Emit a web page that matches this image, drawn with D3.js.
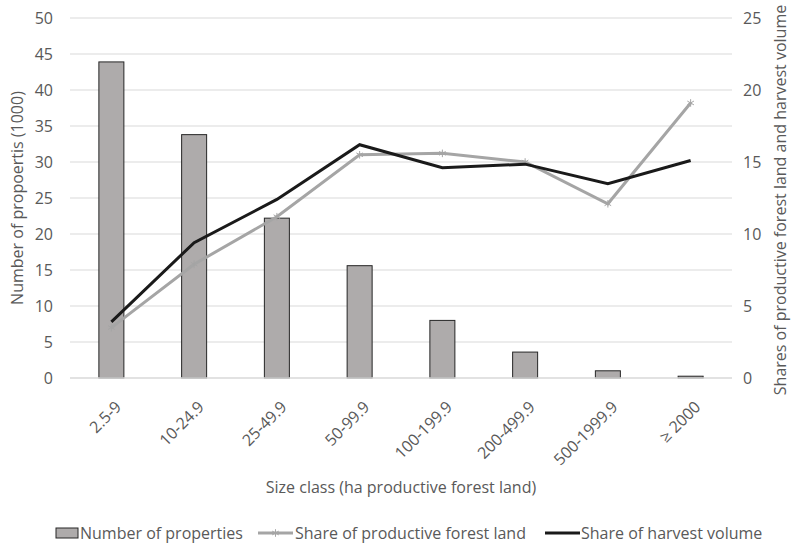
<!DOCTYPE html>
<meta charset="utf-8">
<style>
body { margin: 0; background: #fff; }
text { font-family: "Open Sans", sans-serif; fill: #595959; }
</style>
<body>
<div id="chart"></div>
<script src="https://d3js.org/d3.v7.min.js"></script>
<script>
var categories = ["2.5-9", "10-24.9", "25-49.9", "50-99.9", "100-199.9", "200-499.9", "500-1999.9", "\u2265 2000"];
var properties = [43.9, 33.8, 22.2, 15.6, 8.0, 3.6, 1.0, 0.25];
var shareLand = [3.5, 7.9, 11.2, 15.5, 15.6, 15.0, 12.1, 19.1];
var shareHarvest = [3.9, 9.4, 12.4, 16.2, 14.6, 14.85, 13.5, 15.1];
var leftTicks = [0, 5, 10, 15, 20, 25, 30, 35, 40, 45, 50];
var rightTicks = [0, 5, 10, 15, 20, 25];

var width = 793, height = 544;
var m = {left: 70, right: 61, top: 18, bottom: 166};
var fs = "16px";

var svg = d3.select("#chart").append("svg")
    .attr("width", width)
    .attr("height", height);

var x = d3.scaleBand()
    .domain(categories)
    .range([m.left, width - m.right]);

var yL = d3.scaleLinear().domain([0, 50]).range([height - m.bottom, m.top]);
var yR = d3.scaleLinear().domain([0, 25]).range([height - m.bottom, m.top]);

// gridlines
svg.append("g")
    .selectAll("line")
    .data(leftTicks.slice(1))
    .enter().append("line")
    .attr("x1", m.left).attr("x2", width - m.right)
    .attr("y1", function(d) { return yL(d); })
    .attr("y2", function(d) { return yL(d); })
    .attr("stroke", "#d9d9d9")
    .attr("stroke-width", 1);

// left axis
var gl = svg.append("g")
    .attr("transform", "translate(" + (m.left - 9) + ",0)")
    .call(d3.axisLeft(yL).tickValues(leftTicks).tickSize(0).tickPadding(8));
gl.select(".domain").remove();
gl.selectAll("text").style("font-size", fs).attr("fill", "#595959");

// right axis
var gr = svg.append("g")
    .attr("transform", "translate(" + (width - m.right + 3) + ",0)")
    .call(d3.axisRight(yR).tickValues(rightTicks).tickSize(0).tickPadding(8));
gr.select(".domain").remove();
gr.selectAll("text").style("font-size", fs).attr("fill", "#595959");

// bars
var bw = 25;
svg.append("g")
    .selectAll("rect")
    .data(properties)
    .enter().append("rect")
    .attr("x", function(d, i) { return x(categories[i]) + x.bandwidth() / 2 - bw / 2; })
    .attr("y", function(d) { return yL(d); })
    .attr("width", bw)
    .attr("height", function(d) { return yL(0) - yL(d); })
    .attr("fill", "#aeabab")
    .attr("stroke", "#262626")
    .attr("stroke-width", 1);

// baseline
svg.append("line")
    .attr("x1", m.left).attr("x2", width - m.right)
    .attr("y1", yL(0)).attr("y2", yL(0))
    .attr("stroke", "#d9d9d9")
    .attr("stroke-width", 1.5);

var line = d3.line()
    .x(function(d, i) { return x(categories[i]) + x.bandwidth() / 2; })
    .y(function(d) { return yR(d); });

svg.append("path")
    .datum(shareLand)
    .attr("d", line)
    .attr("fill", "none")
    .attr("stroke", "#a5a5a5")
    .attr("stroke-width", 3);

// star markers
var star = d3.symbol().type(d3.symbolAsterisk).size(40);
svg.append("g")
    .selectAll("path")
    .data(shareLand)
    .enter().append("path")
    .attr("d", star)
    .attr("transform", function(d, i) { return "translate(" + (x(categories[i]) + x.bandwidth() / 2) + "," + yR(d) + ")"; })
    .attr("fill", "none")
    .attr("stroke", "#a5a5a5")
    .attr("stroke-width", 1);

svg.append("path")
    .datum(shareHarvest)
    .attr("d", line)
    .attr("fill", "none")
    .attr("stroke", "#1a1a1a")
    .attr("stroke-width", 3);

// x axis labels
var gx = svg.append("g")
    .attr("transform", "translate(0," + yL(0) + ")")
    .call(d3.axisBottom(x).tickSize(0).tickPadding(0));
gx.select(".domain").remove();
gx.selectAll("text")
    .style("font-size", fs)
    .attr("fill", "#595959")
    .attr("text-anchor", "end")
    .attr("y", 0)
    .attr("dy", "0.35em")
    .attr("transform", "translate(7,26) rotate(-45)");

// axis titles
svg.append("text")
    .attr("x", 401).attr("y", 493)
    .attr("text-anchor", "middle")
    .style("font-size", fs)
    .text("Size class (ha productive forest land)");

svg.append("text")
    .attr("transform", "translate(23,198) rotate(-90)")
    .attr("text-anchor", "middle")
    .style("font-size", fs)
    .text("Number of propoertis (1000)");

svg.append("text")
    .attr("transform", "translate(786,200) rotate(-90)")
    .attr("text-anchor", "middle")
    .style("font-size", fs)
    .text("Shares of productive forest land and harvest volume");

// legend
var lg = svg.append("g").attr("transform", "translate(0,533)");
lg.append("rect")
    .attr("x", 56).attr("y", -5).attr("width", 22).attr("height", 10)
    .attr("fill", "#aeabab").attr("stroke", "#262626");
lg.append("text").attr("x", 80).attr("y", 6).style("font-size", fs).text("Number of properties");

lg.append("line").attr("x1", 258).attr("x2", 293).attr("y1", 0).attr("y2", 0)
    .attr("stroke", "#a5a5a5").attr("stroke-width", 3);
lg.append("path").attr("d", star).attr("transform", "translate(275.5,0)")
    .attr("fill", "none").attr("stroke", "#a5a5a5");
lg.append("text").attr("x", 295).attr("y", 6).style("font-size", fs).text("Share of productive forest land");

lg.append("line").attr("x1", 545).attr("x2", 580).attr("y1", 0).attr("y2", 0)
    .attr("stroke", "#1a1a1a").attr("stroke-width", 3);
lg.append("text").attr("x", 581).attr("y", 6).style("font-size", fs).text("Share of harvest volume");
</script>
</body>
